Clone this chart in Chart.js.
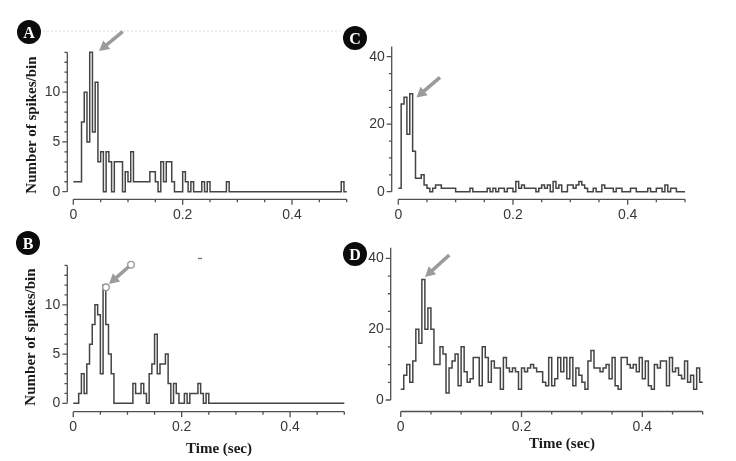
<!DOCTYPE html>
<html>
<head>
<meta charset="utf-8">
<script src="https://cdn.jsdelivr.net/npm/chart.js@4/dist/chart.umd.min.js"></script>
<style>
body{margin:0;background:#fff;width:736px;height:461px;position:relative;overflow:hidden}
canvas{position:absolute}
.badge{position:absolute;width:24px;height:24px;border-radius:50%;background:#0b0b0b;color:#fff;font:bold 16px "Liberation Serif","Times New Roman",serif;text-align:center;line-height:25px;z-index:3}
.ytitle,.xtitle{position:absolute;font:bold 15px "Liberation Serif","Times New Roman",serif;color:#1a1a1a;white-space:nowrap;z-index:3}
.ytitle{transform:translate(-50%,-50%) rotate(-90deg)}
.xtitle{transform:translate(-50%,-50%)}
svg{position:absolute;left:0;top:0;z-index:2}
</style>
</head>
<body>

<div class="badge" style="left:17px;top:20px">A</div>
<div class="badge" style="left:16px;top:231px">B</div>
<div class="badge" style="left:343px;top:26px">C</div>
<div class="badge" style="left:343px;top:242px">D</div>

<div class="ytitle" style="left:31px;top:125px">Number of spikes/bin</div>
<div class="ytitle" style="left:30px;top:337px">Number of spikes/bin</div>
<div class="xtitle" style="left:219px;top:448px">Time (sec)</div>
<div class="xtitle" style="left:562px;top:443px">Time (sec)</div>

<svg id="marks" width="736" height="461"></svg>

<script>
// 5 ms bins, 0 - 0.5 s
const binWidth=0.005
const timeTicks=[0,0.2,0.4]
const timeMinorTicks=[0,0.05,0.1,0.15,0.2,0.25,0.3,0.35,0.4,0.45,0.5]
const countTicksSmall=[0,5,10]
const countTicksLarge=[0,20,40]

const countsA=[1,1,1,7,10,5,14,6,11,3,
4,0,4,3,0,3,3,3,0,2,
1,4,1,1,1,1,1,1,2,2,
1,0,3,1,3,3,1,0,0,0,
2,1,0,1,0,0,0,1,0,1,
0,0,0,0,0,0,1,0,0,0,
0,0,0,0,0,0,0,0,0,0,
0,0,0,0,0,0,0,0,0,0,
0,0,0,0,0,0,0,0,0,0,
0,0,0,0,0,0,0,0,1,0]

const countsB=[0,0,1,3,1,4,6,8,10,9,
3,12,8,5,3,0,0,0,0,0,
0,0,2,1,1,2,1,0,3,4,
7,3,4,4,5,2,0,2,1,0,
0,1,0,1,1,1,2,1,0,1,
0,0,0,0,0,0,0,0,0,0,
0,0,0,0,0,0,0,0,0,0,
0,0,0,0,0,0,0,0,0,0,
0,0,0,0,0,0,0,0,0,0,
0,0,0,0,0,0,0,0,0,0]

const countsC=[1,26,28,17,29,12,4,4,5,2,
1,0,1,2,2,1,1,1,1,1,
0,0,0,0,0,1,0,0,0,0,
0,1,0,1,0,1,1,0,1,1,
0,3,1,2,1,1,1,1,0,1,
2,1,2,0,3,1,2,0,0,2,
2,1,2,3,2,1,0,0,1,0,
0,2,1,1,1,0,1,1,0,0,
0,1,1,0,0,0,0,1,0,0,
1,1,0,2,0,1,1,0,0,0]

const countsD=[3,7,10,5,11,20,16,34,20,26,
20,10,10,15,13,2,9,11,13,4,
15,8,5,6,12,12,4,15,12,5,
11,9,9,3,12,9,8,9,8,3,
9,8,9,10,9,8,8,5,4,12,
4,6,12,8,12,6,12,4,9,7,
5,3,11,14,9,9,8,9,10,6,
12,4,3,12,12,10,9,10,8,12,
6,11,4,3,10,9,11,11,4,12,
8,9,7,6,11,5,7,3,9,5]


function axisPlugin(o){
return {
id:"axes",
afterDraw(chart){
const ctx=chart.ctx
const a=chart.chartArea
const x=chart.scales.x
const y=chart.scales.y
ctx.save()
ctx.strokeStyle="#505050"
ctx.lineWidth=1.3
ctx.beginPath()
// y axis
ctx.moveTo(a.left,y.getPixelForValue(0))
ctx.lineTo(a.left,y.getPixelForValue(o.yMax))
for(let v=0;v<=o.yMax;v+=o.yMinor){
const py=y.getPixelForValue(v)
const len=o.yTicks.includes(v)?5:2.8
ctx.moveTo(a.left-len,py)
ctx.lineTo(a.left,py)
}
// x axis
ctx.moveTo(x.getPixelForValue(0),a.bottom)
ctx.lineTo(x.getPixelForValue(0.5),a.bottom)
timeMinorTicks.forEach(v=>{
const px=x.getPixelForValue(v)
const len=timeTicks.includes(v)?5.5:3
ctx.moveTo(px,a.bottom)
ctx.lineTo(px,a.bottom+len)
})
ctx.stroke()
ctx.restore()
}
}
}


function makePanel(o){

const cv=document.createElement("canvas")
cv.width=o.box.w
cv.height=o.box.h
cv.style.left=o.box.x+"px"
cv.style.top=o.box.y+"px"
document.body.appendChild(cv)

const pts=o.counts.map((v,i)=>({x:i*binWidth,y:v}))
pts.push({x:o.counts.length*binWidth,y:o.counts[o.counts.length-1]})

const tickFont={family:"Liberation Sans",size:14}

new Chart(cv,{
type:"line",
data:{datasets:[{
data:pts,
stepped:"before",
borderColor:"#444",
borderWidth:1.5,
pointRadius:0,
fill:false,
clip:4
}]},
options:{
responsive:false,
animation:false,
layout:{padding:{
left:o.area.l-o.box.x-40,
top:o.area.t-o.box.y,
right:o.box.x+o.box.w-o.area.r,
bottom:o.box.y+o.box.h-o.area.b-30
}},
plugins:{legend:{display:false},tooltip:{enabled:false}},
scales:{
x:{
type:"linear",
min:o.xMin,
max:0.5,
grid:{display:false,drawTicks:false},
border:{display:false},
afterFit:s=>{s.height=30},
afterBuildTicks:s=>{s.ticks=timeTicks.map(v=>({value:v}))},
ticks:{padding:7,color:"#383838",font:tickFont,maxRotation:0,autoSkip:false,callback:v=>String(v)}
},
y:{
type:"linear",
min:o.yMin,
max:o.yMax,
grid:{display:false,drawTicks:false},
border:{display:false},
afterFit:s=>{s.width=40},
afterBuildTicks:s=>{s.ticks=o.yTicks.map(v=>({value:v}))},
ticks:{padding:7,color:"#383838",font:tickFont,callback:v=>String(v)}
}
}
},
plugins:[axisPlugin(o)]
})

}


makePanel({counts:countsA,box:{x:0,y:0,w:360,h:230},area:{l:67.3,t:52.3,r:346.7,b:199.3},
xMin:-0.011,yMin:-0.763,yMax:14,yTicks:countTicksSmall,yMinor:1})

makePanel({counts:countsB,box:{x:0,y:230,w:360,h:231},area:{l:67.3,t:265.4,r:344.3,b:411.7},
xMin:-0.011,yMin:-0.85,yMax:14,yTicks:countTicksSmall,yMinor:1})

makePanel({counts:countsC,box:{x:340,y:0,w:396,h:230},area:{l:391.7,t:46.6,r:685,b:199.3},
xMin:-0.0115,yMin:-2.25,yMax:43,yTicks:countTicksLarge,yMinor:5})

makePanel({counts:countsD,box:{x:340,y:230,w:396,h:231},area:{l:390.7,t:247.7,r:702.7,b:411.5},
xMin:-0.0166,yMin:-3.25,yMax:43,yTicks:countTicksLarge,yMinor:5})


// arrows and small marks
const svg=document.getElementById("marks")
const NS="http://www.w3.org/2000/svg"

function el(tag,attrs){
const e=document.createElementNS(NS,tag)
for(const k in attrs) e.setAttribute(k,attrs[k])
svg.appendChild(e)
return e
}

function arrow(x1,y1,x2,y2){
const dx=x2-x1,dy=y2-y1
const len=Math.hypot(dx,dy)
const ux=dx/len,uy=dy/len
const hl=10,hw=5.5
const bx=x2-ux*hl,by=y2-uy*hl
el("line",{x1:x1,y1:y1,x2:bx+ux*1,y2:by+uy*1,stroke:"#9b9b9b","stroke-width":3.6})
el("polygon",{points:`${x2},${y2} ${bx-uy*hw},${by+ux*hw} ${bx+uy*hw},${by-ux*hw}`,fill:"#9b9b9b"})
}

el("line",{x1:43,y1:31,x2:340,y2:31,stroke:"#dcdcdc","stroke-width":1,"stroke-dasharray":"2,2"})
el("line",{x1:198,y1:258.5,x2:202,y2:258.5,stroke:"#777","stroke-width":1.4})

arrow(122.7,31.7,99,51)
arrow(440,77.3,416.5,97.5)
arrow(449.3,255,425,277)
arrow(129,266.5,109,284)
el("circle",{cx:131,cy:264.7,r:3.3,fill:"#fff",stroke:"#9b9b9b","stroke-width":1.4})
el("circle",{cx:106,cy:287.3,r:3.3,fill:"#fff",stroke:"#9b9b9b","stroke-width":1.4})
</script>
</body>
</html>
